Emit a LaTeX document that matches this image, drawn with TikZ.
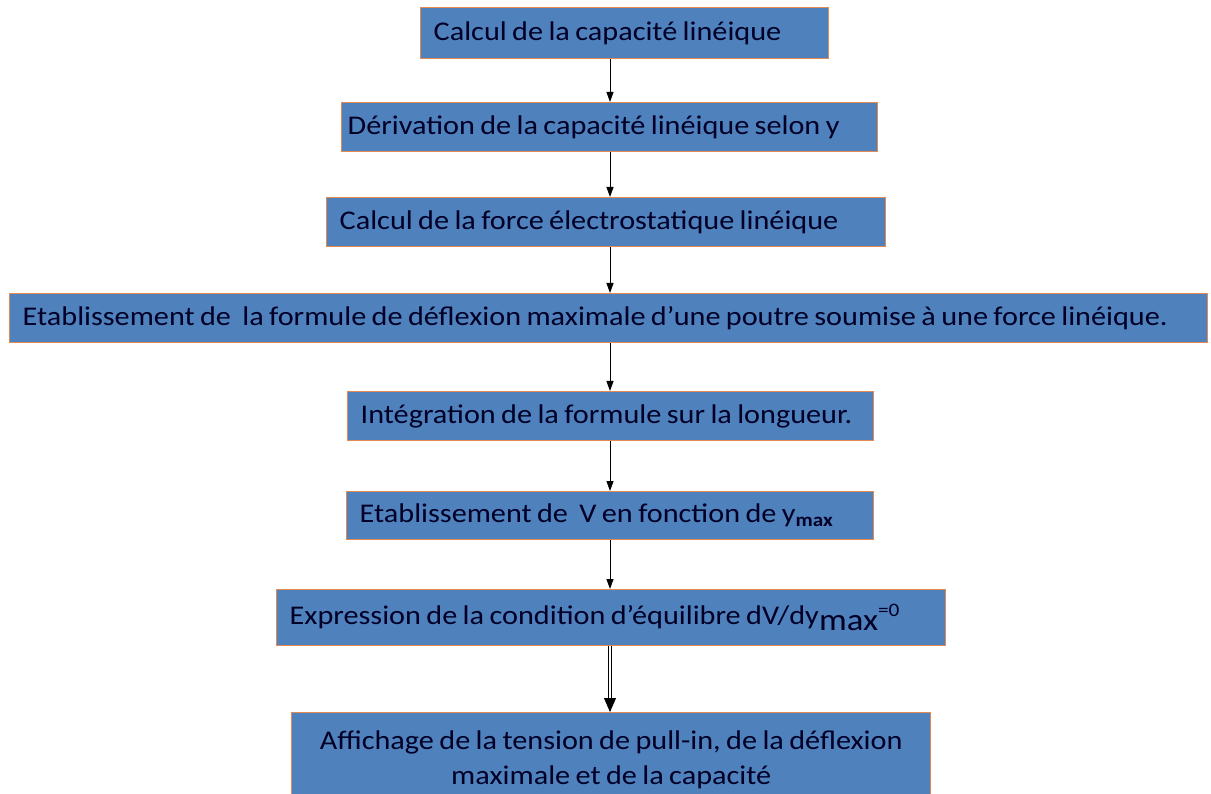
\documentclass[tikz,border=0pt]{standalone}
\usepackage{fontspec}
\setmainfont{Carlito}[FakeStretch=1.12]
\usetikzlibrary{arrows.meta, positioning}
\definecolor{boxblue}{RGB}{79,129,189}
\definecolor{boxedge}{RGB}{226,138,82}

\begin{document}
\begin{tikzpicture}[x=1pt, y=-1pt,
    stepbox/.style={draw=boxedge, line width=1.4pt, fill=boxblue, anchor=north west,
        inner xsep=13pt, inner ysep=0pt, align=left, text=black!85!blue,
        font=\fontsize{27}{35}\selectfont, execute at begin node={\spaceskip=0.2em\relax}},
    flow/.style={-{Triangle[length=10pt,width=7pt]}, line width=1pt},
    implies/.style={double, double distance=2.8pt, line width=0.9pt, -{Triangle[length=14pt,width=12pt]}}]
    \useasboundingbox (0,0) rectangle (1211,794);

    % Axis of the arrows
    \coordinate (axis) at (610,0);

    % Steps of the computation
    \node[stepbox, text width=382pt, minimum height=51pt] (capa) at (420,7) {Calcul de la capacité linéique};
    \node[stepbox, inner xsep=6pt, text width=524pt, minimum height=49pt] (deriv) at (341,102) {Dérivation de la capacité linéique selon y};
    \node[stepbox, text width=533pt, minimum height=49pt] (force) at (326,197) {Calcul de la force électrostatique linéique};
    \node[stepbox, text width=1172pt, minimum height=49pt] (defl) at (9,293) {Etablissement de\hspace{0.42em}la formule de déflexion maximale d’une poutre soumise à une force linéique.};
    \node[stepbox, text width=500pt, minimum height=49pt] (integ) at (347,391) {Intégration de la formule sur la longueur.};
    \node[stepbox, text width=501pt, minimum height=48pt] (volt) at (346,491) {Etablissement de\hspace{0.42em}V en fonction de y\textsubscript{\textbf{max}}};
    \node[stepbox, text width=643pt, minimum height=56pt] (equil) at (276,589) {Expression de la condition d’équilibre dV/dy\raisebox{-0.5ex}{\fontsize{31}{32}\selectfont max}\raisebox{0.6ex}{\fontsize{19}{20}\selectfont =0}};

    % Final result
    \node[stepbox, align=center, text width=613pt, minimum height=94pt] (result) at (291,712) {Affichage de la tension de pull-in, de la déflexion\\ maximale et de la capacité};

    % Connectors
    \draw[flow] (capa.south -| axis) -- (deriv.north -| axis);
    \draw[flow] (deriv.south -| axis) -- (force.north -| axis);
    \draw[flow] (force.south -| axis) -- (defl.north -| axis);
    \draw[flow] (defl.south -| axis) -- (integ.north -| axis);
    \draw[flow] (integ.south -| axis) -- (volt.north -| axis);
    \draw[flow] (volt.south -| axis) -- (equil.north -| axis);
    \draw[implies] (equil.south -| axis) -- (result.north -| axis);
\end{tikzpicture}
\end{document}
